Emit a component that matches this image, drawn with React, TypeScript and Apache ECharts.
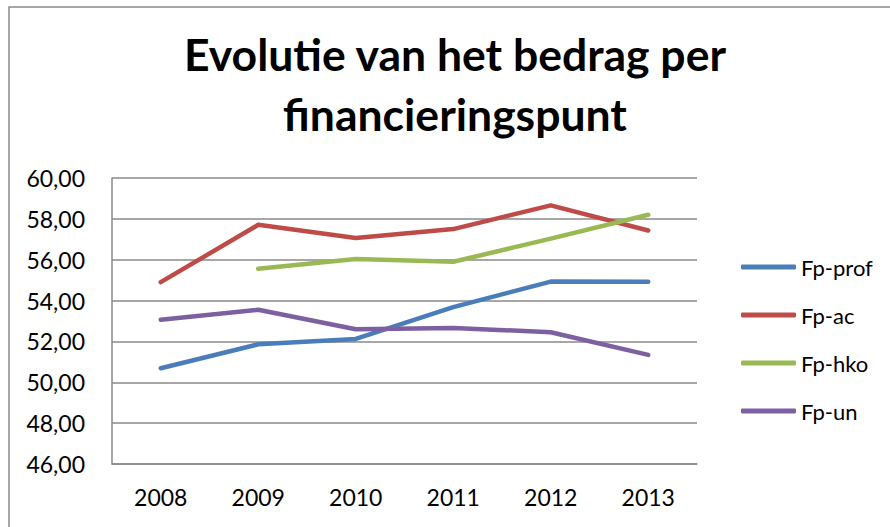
import React, { useEffect, useRef } from "react";
import * as echarts from "echarts";

const years = ["2008", "2009", "2010", "2011", "2012", "2013"];
const fpProf = [50.69, 51.86, 52.12, 53.68, 54.93, 54.92];
const fpAc = [54.9, 57.71, 57.06, 57.5, 58.66, 57.43];
const fpHko = [null, 55.56, 56.03, 55.9, 57.03, 58.2];
const fpUn = [53.06, 53.55, 52.6, 52.66, 52.45, 51.34];
const titleLines = ["Evolutie van het bedrag per", "financieringspunt"];

const FONT = "Lato, 'Noto Sans', sans-serif";

export default function App() {
  const ref = useRef<HTMLDivElement>(null);
  useEffect(() => {
    if (!ref.current) return;
    const chart = echarts.init(ref.current, undefined, { renderer: "svg" });
    const mk = (name: string, data: (number | null)[], color: string) => ({
      name,
      type: "line",
      data,
      symbol: "none",
      connectNulls: false,
      lineStyle: { color, width: 4.5, cap: "round", join: "round" },
      itemStyle: { color },
    });
    chart.setOption({
      animation: false,
      backgroundColor: "#ffffff",
      textStyle: { fontFamily: FONT },
      graphic: [
        {
          type: "rect",
          shape: { x: 9, y: 7, width: 1000, height: 1000 },
          style: { fill: "none", stroke: "#8a8a8a", lineWidth: 1.5 },
          silent: true,
        },
        {
          type: "text",
          x: 455,
          y: 53,
          style: {
            text: titleLines[0],
            fontFamily: FONT,
            fontWeight: "bold",
            fontSize: 44.5,
            fill: "#000",
            textAlign: "center",
            textVerticalAlign: "middle",
          },
        },
        {
          type: "text",
          x: 455,
          y: 113,
          style: {
            text: titleLines[1],
            fontFamily: FONT,
            fontWeight: "bold",
            fontSize: 44.5,
            fill: "#000",
            textAlign: "center",
            textVerticalAlign: "middle",
          },
        },
      ],
      legend: {
        orient: "vertical",
        left: 736,
        top: 251,
        icon: "roundRect",
        itemWidth: 55,
        itemHeight: 5,
        itemGap: 26,
        textStyle: { fontFamily: FONT, fontSize: 22, color: "#000" },
        data: ["Fp-prof", "Fp-ac", "Fp-hko", "Fp-un"],
      },
      grid: { left: 112, right: 193, top: 178, bottom: 63 },
      xAxis: {
        type: "category",
        data: years,
        boundaryGap: true,
        axisLine: { lineStyle: { color: "#8a8a8a", width: 1.5 } },
        axisTick: { show: false },
        axisLabel: { fontFamily: FONT, fontSize: 23, color: "#000", margin: 21 },
      },
      yAxis: {
        type: "value",
        min: 46,
        max: 60,
        interval: 2,
        axisLine: { show: true, lineStyle: { color: "#8a8a8a", width: 1.5 } },
        axisTick: { show: false },
        splitLine: { lineStyle: { color: "#8a8a8a", width: 1.5 } },
        axisLabel: {
          fontFamily: FONT,
          fontSize: 23,
          color: "#000",
          margin: 27,
          formatter: (v: number) => v.toFixed(2).replace(".", ","),
        },
      },
      series: [
        mk("Fp-prof", fpProf, "#4a7ebb"),
        mk("Fp-ac", fpAc, "#be4b48"),
        mk("Fp-hko", fpHko, "#98b954"),
        mk("Fp-un", fpUn, "#7d60a0"),
      ],
    });
    return () => chart.dispose();
  }, []);
  return (
    <div
      ref={ref}
      style={{ position: "fixed", left: 0, top: 0, width: 890, height: 527 }}
    />
  );
}
